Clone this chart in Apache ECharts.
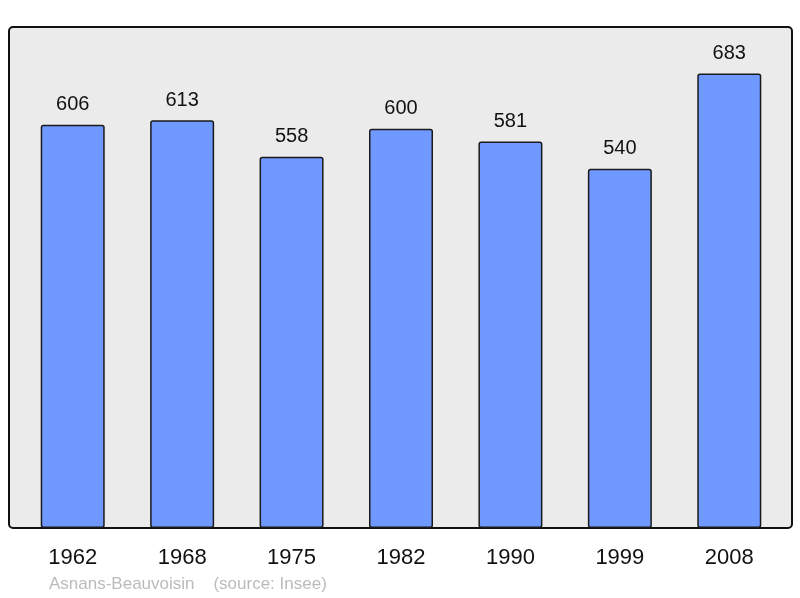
<!DOCTYPE html>
<html><head><meta charset="utf-8">
<script src="https://cdn.jsdelivr.net/npm/echarts@6/dist/echarts.min.js"></script>
<style>html,body{margin:0;padding:0;background:#fff}#c{width:800px;height:598px}</style>
</head><body><div id="c"></div>
<script>
var years = ['1962','1968','1975','1982','1990','1999','2008'];
var population = [606, 613, 558, 600, 581, 540, 683];
var footer = 'Asnans-Beauvoisin    (source: Insee)';

var chart = echarts.init(document.getElementById('c'), null, {renderer:'canvas'});
chart.setOption({
  animation: false,
  graphic: [
    {type:'rect', z:-10, shape:{x:9, y:27, width:783, height:501, r:4},
     style:{fill:'#ebebeb', stroke:'#111', lineWidth:2}},
    {type:'text', left:49, top:576, style:{text: footer, fill:'#bbbbbb', font:'17px "Liberation Sans", Arial, sans-serif'}}
  ],
  grid: {left:18, right:16, top:27, bottom:70},
  xAxis: {type:'category', data: years, axisLine:{show:false}, axisTick:{show:false},
    axisLabel:{color:'#111', fontSize:22, fontFamily:'"Liberation Sans", Arial, sans-serif', margin:19}},
  yAxis: {type:'value', min:0, max:753, show:false, splitLine:{show:false}},
  series: [{
    type:'bar', data: population, barWidth:64, z:5,
    itemStyle:{color:'#7099ff', borderColor:'#1a1a1a', borderWidth:1.5, borderRadius:2},
    label:{show:true, position:'top', distance:10, color:'#111', fontSize:20,
      fontFamily:'"Liberation Sans", Arial, sans-serif'}
  }]
});
</script></body></html>
